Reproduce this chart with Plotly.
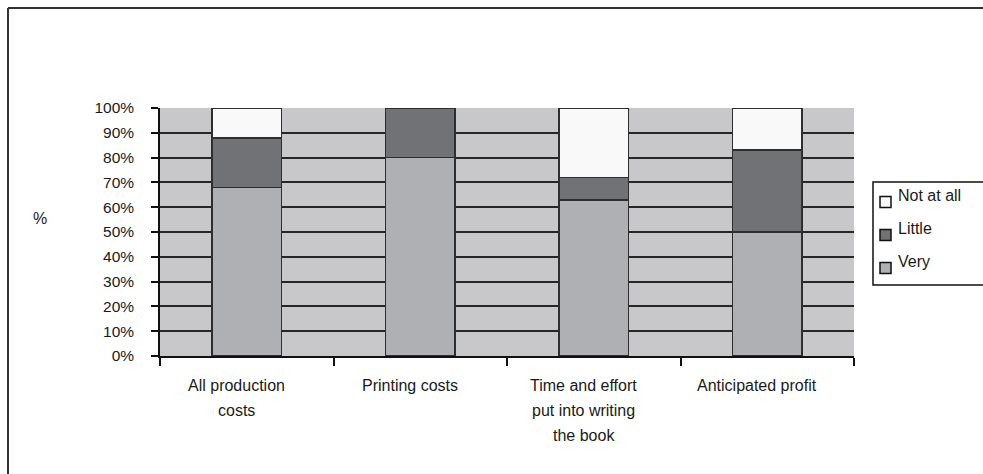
import plotly.graph_objects as go

categories = ["All production costs", "Printing costs", "Time and effort put into writing the book", "Anticipated profit"]
category_lines = [["All production", "costs"], ["Printing costs"], ["Time and effort", "put into writing", "the book"], ["Anticipated profit"]]
very = [68, 80, 63, 50]
little = [20, 20, 9, 33]
not_at_all = [12, 0, 28, 17]
series_names = ["Very", "Little", "Not at all"]
series_colors = ["#afb0b3", "#717275", "#f9f9f9"]
tick_vals = [0, 10, 20, 30, 40, 50, 60, 70, 80, 90, 100]
tick_text = [f"{v}%" for v in tick_vals]

W, H = 983, 474
L, R, T, B = 160, 983 - 854, 108, 474 - 356
FONT = "Liberation Sans, Arial, sans-serif"
EDGE = "#2e2e2e"
TXT = "#1a1a1a"

fig = go.Figure()
for name, vals, col in zip(series_names, [very, little, not_at_all], series_colors):
    fig.add_trace(go.Bar(
        x=categories, y=vals, name=name,
        marker=dict(color=col, line=dict(color=EDGE, width=1.5)),
        width=0.4,
    ))

pw = W - L - R
ph = H - T - B

def px_x(p):
    return (p - L) / pw

def px_y(p):
    return (H - B - p) / ph

annotations = []
shapes = []
for cat, lines in zip(categories, category_lines):
    for i, line in enumerate(lines):
        annotations.append(dict(
            x=cat, xref="x", y=px_y(385 + 25 * i), yref="paper",
            text=line, showarrow=False, xanchor="center", yanchor="middle",
            xshift=-10,
            font=dict(family=FONT, size=16, color=TXT),
        ))
annotations.append(dict(
    x=px_x(40), xref="paper", y=px_y(218), yref="paper", text="%",
    showarrow=False, xanchor="center", yanchor="middle",
    font=dict(family=FONT, size=16, color=TXT),
))

# legend (manual, top to bottom: Not at all, Little, Very)
shapes.append(dict(type="rect", xref="paper", yref="paper",
                   x0=px_x(873), x1=px_x(995), y0=px_y(182), y1=px_y(285),
                   line=dict(color="#111", width=1.5), fillcolor="white"))
for k, (name, col) in enumerate(zip(series_names[::-1], series_colors[::-1])):
    cy = 202 + 33 * k
    shapes.append(dict(type="rect", xref="paper", yref="paper",
                       x0=px_x(880), x1=px_x(891), y0=px_y(cy - 5.5), y1=px_y(cy + 5.5),
                       line=dict(color="#111", width=1.5), fillcolor=col))
    annotations.append(dict(
        x=px_x(896), xref="paper", y=px_y(cy - 7), yref="paper", text=name,
        showarrow=False, xanchor="left", yanchor="middle",
        font=dict(family=FONT, size=16, color=TXT),
    ))

# outer frame
shapes.append(dict(type="line", xref="paper", yref="paper", x0=px_x(8), x1=px_x(8), y0=px_y(8), y1=px_y(480),
                   line=dict(color="#333", width=2)))
shapes.append(dict(type="line", xref="paper", yref="paper", x0=px_x(8), x1=px_x(990), y0=px_y(8), y1=px_y(8),
                   line=dict(color="#333", width=2)))

fig.update_layout(
    width=W, height=H,
    margin=dict(l=L, r=R, t=T, b=B, pad=0),
    barmode="stack",
    paper_bgcolor="white",
    plot_bgcolor="#c8c8ca",
    font=dict(family=FONT, size=16, color=TXT),
    showlegend=False,
    xaxis=dict(
        showgrid=False, showline=True, linecolor="#111", linewidth=1.5,
        ticks="outside", tickson="boundaries", ticklen=8, tickcolor="#111", tickwidth=1.5,
        showticklabels=False, fixedrange=True,
    ),
    yaxis=dict(
        range=[0, 100], tickvals=tick_vals, ticktext=tick_text,
        showgrid=True, gridcolor="#262626", gridwidth=1.5,
        showline=True, linecolor="#111", linewidth=1.5,
        ticks="outside", ticklen=7, tickcolor="#111", tickwidth=1.5,
        ticklabelstandoff=14, zeroline=False,
        tickfont=dict(family=FONT, size=15.5, color=TXT),
    ),
    annotations=annotations,
    shapes=shapes,
)

fig.write_html("out.html")
